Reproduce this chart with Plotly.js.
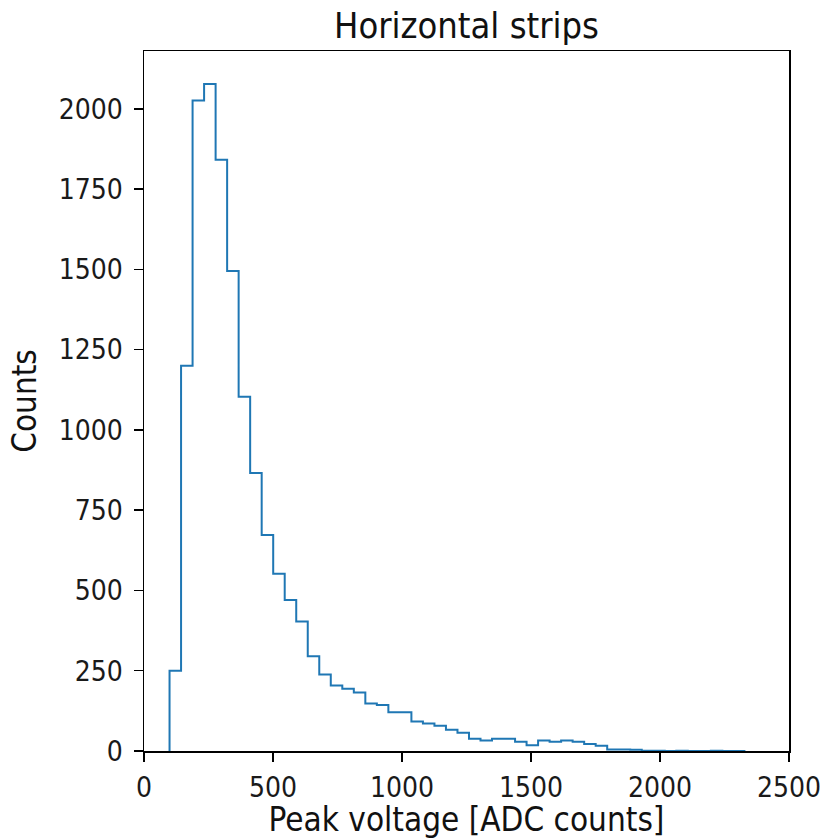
<!DOCTYPE html>
<html>
<head>
<meta charset="utf-8">
<script src="https://cdn.plot.ly/plotly-3.0.1.min.js"></script>
<style>
html,body{margin:0;padding:0;background:#fff;}
#chart{width:825px;height:839px;}
</style>
</head>
<body>
<div id="chart"></div>
<script>
// Histogram data
const binLow = 99;      // first bin edge
const binHigh = 2331;   // last bin edge
const counts = [250,1200,2026,2077,1841,1495,1103,866,673,552,
                470,403,295,238,204,194,182,148,143,121,
                121,92,86,79,66,57,38,33,38,38,
                29,18,33,29,33,29,22,16,5,5,
                4,1,1,0,1,0,0,1,0,0];
const xTickVals = [0,500,1000,1500,2000,2500];
const yTickVals = [0,250,500,750,1000,1250,1500,1750,2000];

const nBins = counts.length;
const w = (binHigh - binLow) / nBins;
const edges = [];
for (let i = 0; i <= nBins; i++) edges.push(binLow + i * w);

// step outline like matplotlib histtype='step'
const xs = [edges[0]];
const ys = [0];
for (let i = 0; i < nBins; i++) { xs.push(edges[i]); ys.push(counts[i]); }
xs.push(edges[nBins]); ys.push(0);

const font = "'DejaVu Sans Condensed', 'DejaVu Sans', sans-serif";

const trace = {
  x: xs, y: ys, type: 'scatter', mode: 'lines',
  line: {shape: 'hv', color: '#1f77b4', width: 2},
  hoverinfo: 'skip', showlegend: false
};

const axisCommon = {
  showgrid: false, zeroline: false,
  showline: true, mirror: true, linecolor: '#000', linewidth: 1.5,
  ticks: 'outside', ticklen: 9, tickwidth: 1.5, tickcolor: '#000',
  tickfont: {family: font, size: 28, color: '#1a1a1a'}
};

const layout = {
  width: 825, height: 839,
  margin: {l: 144, r: 36, t: 51, b: 88, pad: 0},
  paper_bgcolor: '#fff', plot_bgcolor: '#fff',
  title: {text: 'Horizontal strips', font: {family: font, size: 36, color: '#111'},
          x: 0.5, xref: 'paper', xanchor: 'center', y: 0.97, yanchor: 'middle', yref: 'container'},
  xaxis: Object.assign({}, axisCommon, {
    range: [0, 2500], tickvals: xTickVals, ticktext: xTickVals.map(String),
    ticklabelstandoff: 2,
    title: {text: 'Peak voltage [ADC counts]', font: {family: font, size: 33, color: '#111'}, standoff: 10}
  }),
  yaxis: Object.assign({}, axisCommon, {
    range: [0, 2180], tickvals: yTickVals, ticktext: yTickVals.map(String),
    ticklabelstandoff: 5,
    title: {text: 'Counts', font: {family: font, size: 33, color: '#111'}, standoff: 12}
  })
};

Plotly.newPlot('chart', [trace], layout, {staticPlot: true, displayModeBar: false});
</script>
</body>
</html>
